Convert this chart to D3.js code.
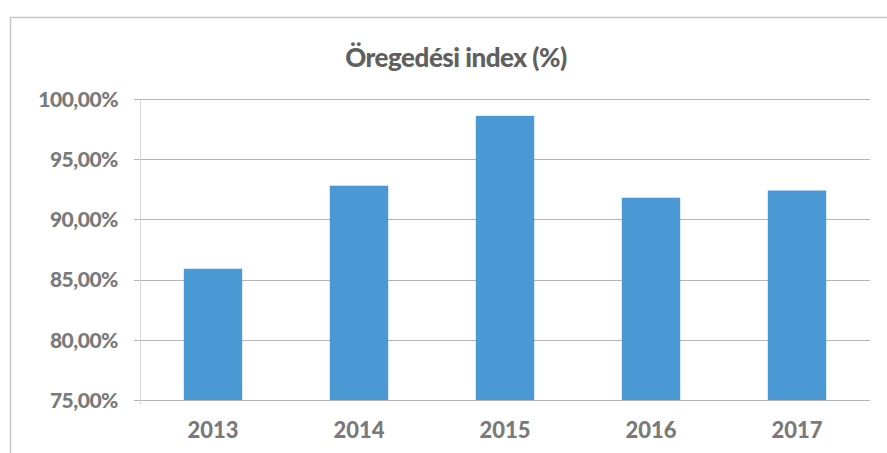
<!DOCTYPE html>
<head>
	<meta charset="utf-8">
	<title>Öregedési index</title>
	<style>
		body {
			margin: 0;
			padding: 0;
			background-color: #fff;
			font-family: 'Lato', sans-serif;
		}
		.tick text {
			fill: #7a7a7a;
			font-weight: 900;
			font-family: 'Lato', sans-serif;
		}
	</style>
</head>
<body>
	<div id='vis'></div>

	<script src="https://cdnjs.cloudflare.com/ajax/libs/d3/7.8.5/d3.min.js"></script>
	<script>
		var years = ['2013', '2014', '2015', '2016', '2017'],
		    values = [85.9, 92.8, 98.6, 91.8, 92.4],
		    yTicks = [75, 80, 85, 90, 95, 100];

		// note: "top" would clash with window.top, so plot* names
		var width = 887, height = 453,
		    plotLeft = 140, plotRight = 870, plotTop = 99, plotBottom = 400;

		var svg = d3.select("#vis").append("svg")
			.attr("width", width)
			.attr("height", height);

		// chart frame (scanned page border)
		svg.append("path")
			.attr("d", "M10.5," + height + "V17.5H" + width)
			.attr("fill", "none")
			.attr("stroke", "#c8c8c8")
			.attr("stroke-width", 1.5);

		var x = d3.scaleBand()
			.domain(years)
			.range([plotLeft, plotRight])
			.paddingInner(0.6)
			.paddingOuter(0.3);

		var y = d3.scaleLinear()
			.domain([75, 100])
			.range([plotBottom, plotTop]);

		// gridlines
		svg.append("g")
			.selectAll("line")
			.data(yTicks)
			.enter().append("line")
			.attr("x1", plotLeft - 6)
			.attr("x2", plotRight)
			.attr("y1", function(d) { return Math.round(y(d)) + 0.5; })
			.attr("y2", function(d) { return Math.round(y(d)) + 0.5; })
			.attr("stroke", "#b4b4b4")
			.attr("stroke-width", 1.2);

		svg.append("line")
			.attr("x1", plotLeft + 0.5).attr("x2", plotLeft + 0.5)
			.attr("y1", plotTop).attr("y2", plotBottom + 4)
			.attr("stroke", "#d6d6d6");

		svg.append("g")
			.selectAll("rect")
			.data(values)
			.enter().append("rect")
			.attr("x", function(d, i) { return x(years[i]); })
			.attr("width", x.bandwidth())
			.attr("y", function(d) { return y(d); })
			.attr("height", function(d) { return y(75) - y(d); })
			.attr("fill", "#4a98d4");

		var yAxis = svg.append("g")
			.attr("transform", "translate(" + (plotLeft - 22) + ",0)")
			.call(d3.axisLeft(y).tickValues(yTicks).tickSize(0)
				.tickFormat(function(d) { return d3.format(".2f")(d).replace(".", ",") + "%"; }));
		yAxis.select(".domain").remove();
		yAxis.selectAll("text").style("font-size", "21px").style("letter-spacing", "-0.5px")
			.attr("dy", "0.35em").attr("x", 0);

		var xAxis = svg.append("g")
			.attr("transform", "translate(0," + (plotBottom + 22) + ")")
			.call(d3.axisBottom(x).tickSize(0));
		xAxis.select(".domain").remove();
		xAxis.selectAll("text").style("font-size", "22px").attr("dy", "0.71em").attr("y", 0);

		svg.append("text")
			.attr("x", 456)
			.attr("y", 67)
			.attr("text-anchor", "middle")
			.attr("fill", "#606060")
			.style("font-size", "26px")
			.style("font-weight", 900)
			.style("letter-spacing", "-0.5px")
			.text("Öregedési index (%)");
	</script>
</body>
